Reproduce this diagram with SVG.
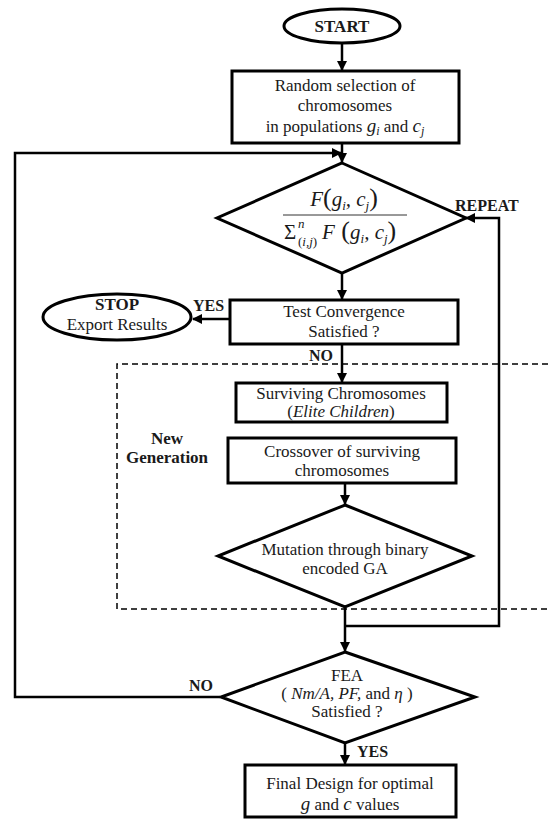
<svg xmlns="http://www.w3.org/2000/svg" width="548" height="819" viewBox="0 0 548 819">
<defs>
<marker id="ah" markerWidth="10" markerHeight="10" refX="9" refY="5" orient="auto" markerUnits="userSpaceOnUse">
<path d="M0,0 L10,5 L0,10 z" fill="#000"/>
</marker>
<style>
.box{fill:#fff;stroke:#000;stroke-width:3}
.t{font-family:"Liberation Serif","Times New Roman",serif;font-size:17px;fill:#1a1a1a;text-anchor:middle}
.b{font-family:"Liberation Serif","Times New Roman",serif;font-size:16px;font-weight:bold;fill:#1a1a1a}
.m{font-style:italic}
.mt{font-family:"Liberation Serif","Times New Roman",serif;font-size:21px;fill:#1a1a1a;font-style:italic}
.up{font-style:normal}
.sm{font-size:13px}
.big{font-size:26px}
.c{fill:none;stroke:#000;stroke-width:2.5}
.d{fill:none;stroke:#000;stroke-width:1.5;stroke-dasharray:6 4}
</style>
</defs>
<rect width="548" height="819" fill="#fff"/>

<g id="newgen">
<path class="d" d="M548,364 L117,364 L117,609 L548,609"/>
<text class="b" x="167" y="444" text-anchor="middle" style="font-size:17px">New</text>
<text class="b" x="167" y="463" text-anchor="middle" style="font-size:17px">Generation</text>
</g>

<g id="connectors">
<line class="c" x1="342" y1="43" x2="342" y2="70" marker-end="url(#ah)"/>
<line class="c" x1="342" y1="143" x2="342" y2="162" marker-end="url(#ah)"/>
<polyline class="c" points="220,697 15,697 15,153 341,153" marker-end="url(#ah)"/>
<line class="c" x1="342" y1="273" x2="342" y2="299" marker-end="url(#ah)"/>
<line class="c" x1="229" y1="319" x2="193" y2="319" marker-end="url(#ah)"/>
<line class="c" x1="342" y1="344" x2="342" y2="382" marker-end="url(#ah)"/>
<line class="c" x1="345" y1="483" x2="345" y2="504" marker-end="url(#ah)"/>
<line class="c" x1="345" y1="607" x2="345" y2="651" marker-end="url(#ah)"/>
<polyline class="c" points="345,626 499,626 499,218 466,218" marker-end="url(#ah)"/>
<line class="c" x1="345" y1="743" x2="345" y2="764" marker-end="url(#ah)"/>
<text class="b" x="455" y="211">REPEAT</text>
<text class="b" x="193" y="311">YES</text>
<text class="b" x="309" y="361">NO</text>
<text class="b" x="189" y="691">NO</text>
<text class="b" x="357" y="757">YES</text>
</g>

<g id="start">
<ellipse class="box" cx="342" cy="26" rx="58" ry="17"/>
<text class="b" x="342" y="32" text-anchor="middle" style="font-size:17px">START</text>
</g>

<g id="random">
<rect class="box" x="232" y="71" width="227" height="72"/>
<text class="t" x="345" y="91">Random selection of</text>
<text class="t" x="345" y="111">chromosomes</text>
<text class="t" x="345" y="132">in populations <tspan class="m" style="font-size:19px">g</tspan><tspan class="m" style="font-size:12px" dy="3">i</tspan><tspan dy="-3"> and </tspan><tspan class="m" style="font-size:19px">c</tspan><tspan class="m" style="font-size:12px" dy="3">j</tspan></text>
</g>

<g id="fitness">
<polygon class="box" points="342,163 466,218 342,273 217,218"/>
<text class="mt" x="344" y="206" text-anchor="middle">F<tspan class="up big">(</tspan>g<tspan class="sm" dy="4">i</tspan><tspan dy="-4">, c</tspan><tspan class="sm" dy="4">j</tspan><tspan class="up big" dy="-4">)</tspan></text>
<line x1="283" y1="215" x2="407" y2="215" stroke="#333" stroke-width="1"/>
<text class="mt up" x="284" y="239">Σ</text>
<text class="mt sm" x="298" y="228">n</text>
<text class="mt sm" x="298" y="246"><tspan class="up">(</tspan>i,j<tspan class="up">)</tspan></text>
<text class="mt" x="322" y="239">F<tspan class="up big"> (</tspan>g<tspan class="sm" dy="4">i</tspan><tspan dy="-4">, c</tspan><tspan class="sm" dy="4">j</tspan><tspan class="up big" dy="-4">)</tspan></text>
</g>

<g id="test">
<rect class="box" x="230" y="300" width="228" height="44"/>
<text class="t" x="344" y="317">Test Convergence</text>
<text class="t" x="344" y="337">Satisfied ?</text>
</g>

<g id="stop">
<ellipse class="box" cx="117" cy="317" rx="74" ry="23"/>
<text class="b" x="117" y="310" text-anchor="middle" style="font-size:17px">STOP</text>
<text class="t" x="117" y="330">Export Results</text>
</g>

<g id="surviving">
<rect class="box" x="236" y="383" width="211" height="39"/>
<text class="t" x="341" y="399">Surviving Chromosomes</text>
<text class="t" x="341" y="417">(<tspan class="m">Elite Children</tspan>)</text>
</g>

<g id="crossover">
<rect class="box" x="228" y="438" width="228" height="45"/>
<text class="t" x="342" y="457">Crossover of surviving</text>
<text class="t" x="342" y="476">chromosomes</text>
</g>

<g id="mutation">
<polygon class="box" points="345,505 472,556 345,607 218,556"/>
<text class="t" x="345" y="555">Mutation through binary</text>
<text class="t" x="345" y="574">encoded GA</text>
</g>

<g id="fea">
<polygon class="box" points="345,652 475,697 345,743 221,697"/>
<text class="t" x="347" y="681">FEA</text>
<text class="t" x="347" y="699">( <tspan class="m">Nm/A, PF,</tspan> and <tspan class="m">η</tspan> )</text>
<text class="t" x="347" y="717">Satisfied ?</text>
</g>

<g id="final">
<rect class="box" x="245" y="765" width="211" height="52"/>
<text class="t" x="350" y="789">Final Design for optimal</text>
<text class="t" x="350" y="810"><tspan class="m" style="font-size:19px">g</tspan> and <tspan class="m" style="font-size:19px">c</tspan> values</text>
</g>
</svg>
